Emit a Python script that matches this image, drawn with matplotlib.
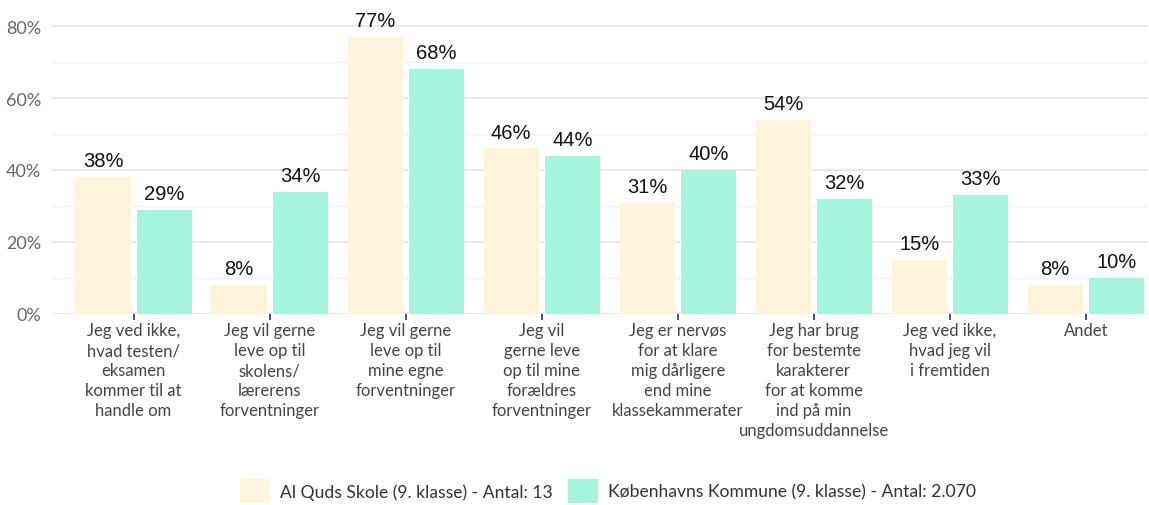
import matplotlib
matplotlib.use("Agg")
import matplotlib.pyplot as plt
import numpy as np
from matplotlib.patches import Patch

categories = [
    "Jeg ved ikke,\nhvad testen/\neksamen\nkommer til at\nhandle om",
    "Jeg vil gerne\nleve op til\nskolens/\nlærerens\nforventninger",
    "Jeg vil gerne\nleve op til\nmine egne\nforventninger",
    "Jeg vil\ngerne leve\nop til mine\nforældres\nforventninger",
    "Jeg er nervøs\nfor at klare\nmig dårligere\nend mine\nklassekammerater",
    "Jeg har brug\nfor bestemte\nkarakterer\nfor at komme\nind på min\nungdomsuddannelse",
    "Jeg ved ikke,\nhvad jeg vil\ni fremtiden",
    "Andet",
]
school = [38, 8, 77, 46, 31, 54, 15, 8]
kommune = [29, 34, 68, 44, 40, 32, 33, 10]
series_names = ["Al Quds Skole (9. klasse) - Antal: 13",
                "Københavns Kommune (9. klasse) - Antal: 2.070"]
colors = ["#FFF3D9", "#A3F5DE"]

fig = plt.figure(figsize=(11.49, 5.06), dpi=100)
ax = fig.add_axes([52/1149, 1 - 315/506, (1147-52)/1149, 315/506])

x = np.arange(len(categories))
w = 0.405
off = 0.225
b1 = ax.bar(x - off, school, w, color=colors[0], zorder=2)
b2 = ax.bar(x + off, kommune, w, color=colors[1], zorder=2)

for bars, vals in ((b1, school), (b2, kommune)):
    for r, v in zip(bars, vals):
        ax.text(r.get_x() + r.get_width()/2, v + 1.9, f"{v}%", ha="center", va="bottom",
                fontsize=14.5, family="Liberation Sans", color="#111111", zorder=3)

ax.set_xlim(-0.6, 7.45)
ax.set_ylim(0, 87.5)
ax.set_yticks([0, 20, 40, 60, 80])
ax.set_yticklabels([f"{t}%" for t in [0, 20, 40, 60, 80]])
ax.set_yticks([10, 30, 50, 70], minor=True)
ax.grid(axis="y", which="major", color="#E4E4E4", linewidth=1.2, zorder=0)
ax.grid(axis="y", which="minor", color="#F0F0F0", linewidth=1.0, zorder=0)
for s in ax.spines.values():
    s.set_visible(False)
ax.tick_params(axis="y", which="both", length=0, labelsize=13, labelcolor="#666666", pad=8)
ax.set_xticks(x)
ax.set_xticklabels(categories, fontsize=12, color="#444444", family="Lato", linespacing=1.3)
ax.tick_params(axis="x", length=4, width=1.2, color="#333333", pad=2)
for lbl in ax.get_yticklabels():
    lbl.set_family("Lato")

handles = [Patch(facecolor=c, edgecolor="none") for c in colors]
fig.legend(handles, series_names, loc="center", bbox_to_anchor=(608/1149, 1 - 492/506),
           ncol=2, frameon=False, prop={"family": "Lato", "size": 12.6},
           handlelength=1.7, handleheight=1.8, columnspacing=0.9, handletextpad=0.6,
           labelcolor="#333333")

fig.savefig("out.png", dpi=100)
